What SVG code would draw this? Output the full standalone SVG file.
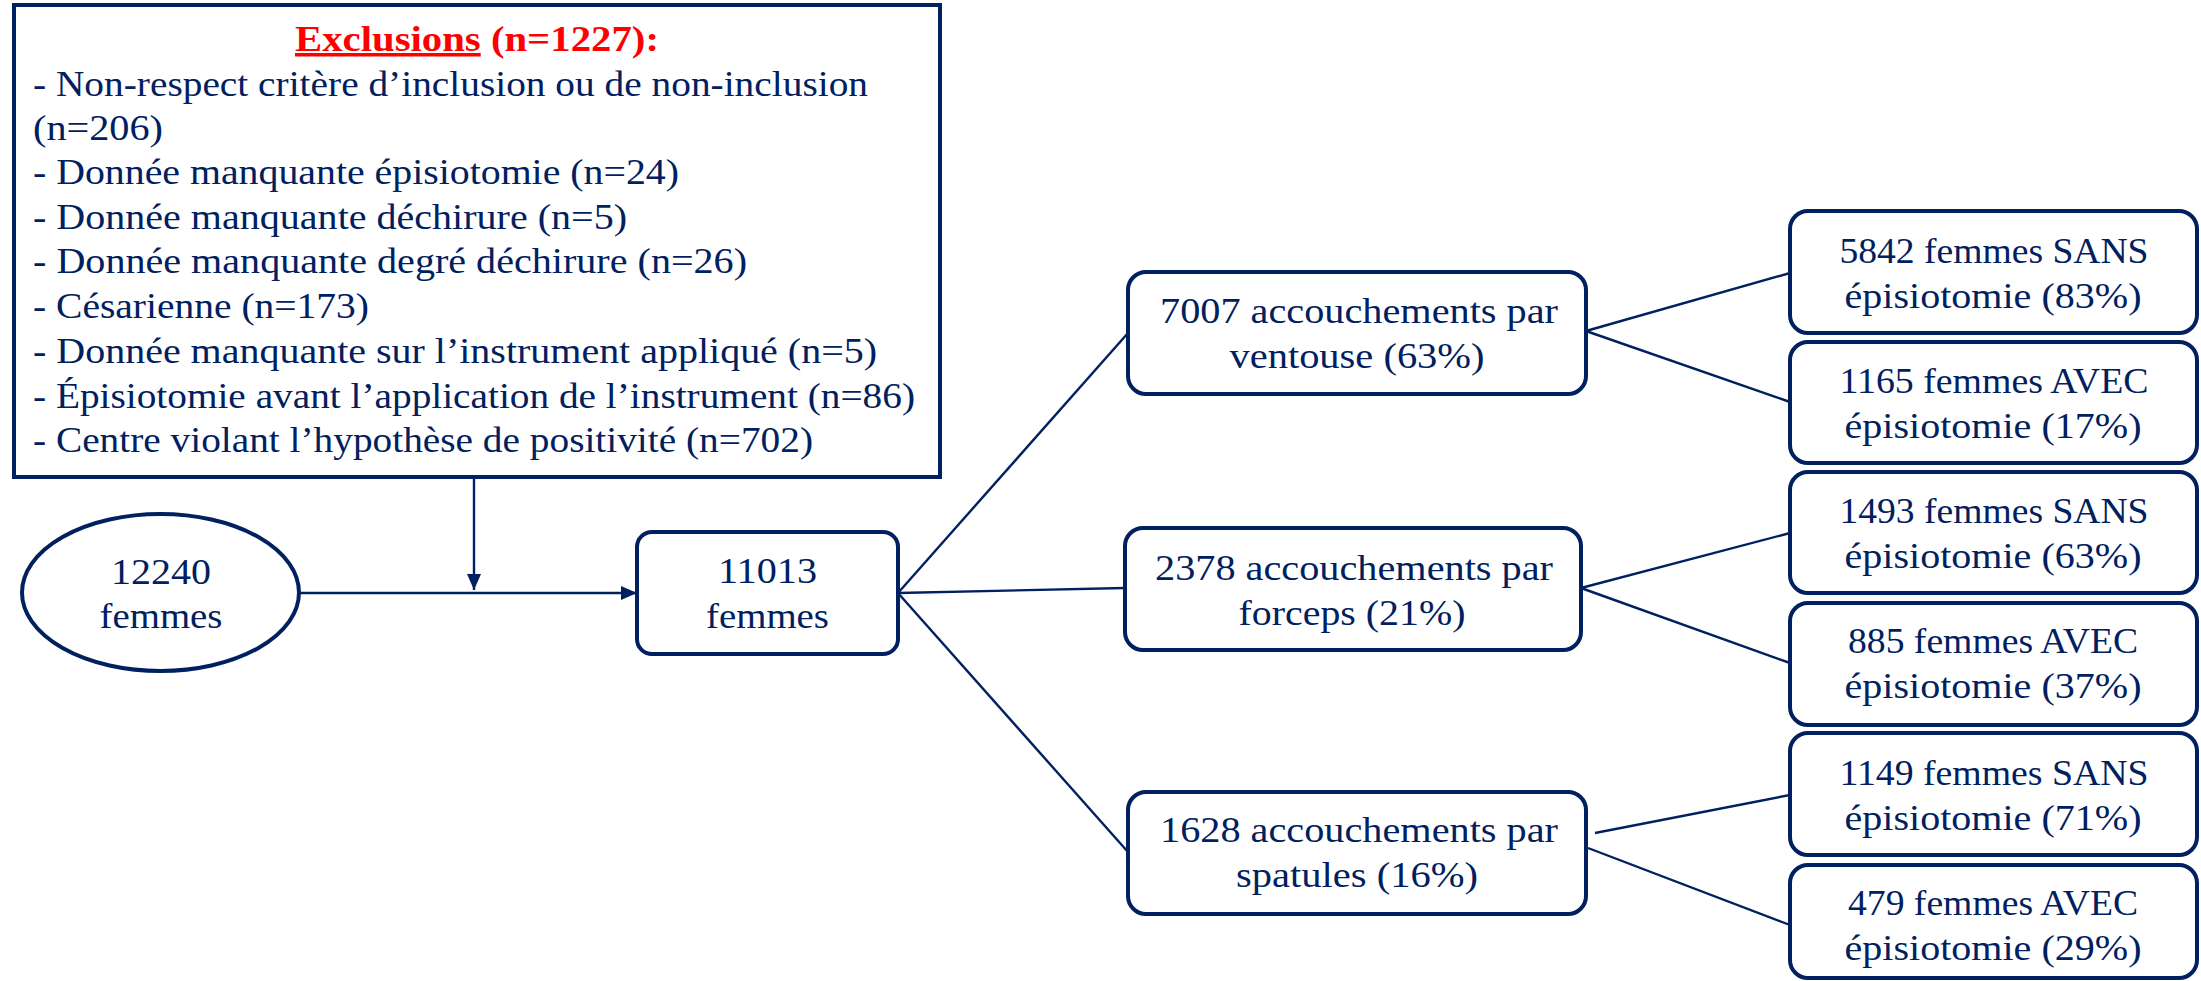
<svg xmlns="http://www.w3.org/2000/svg" width="2201" height="981" viewBox="0 0 2201 981">
<style>
  .t { font-family: "Liberation Serif", "Times New Roman", serif; fill: #002060; font-size: 36px; }
  .c { text-anchor: middle; }
  .ex { font-family: "Liberation Serif", "Times New Roman", serif; fill: #002060; font-size: 35px; }
  .box { fill: #ffffff; stroke: #002060; stroke-width: 4; }
  .ln { stroke: #002060; stroke-width: 2.4; fill: none; }
</style>
<defs>
  <marker id="arr2" viewBox="0 0 16 14" refX="16" refY="7" markerWidth="16" markerHeight="14" orient="auto" markerUnits="userSpaceOnUse">
    <path d="M0,0 L16,7 L0,14 z" fill="#002060"/>
  </marker>
</defs>
<rect width="2201" height="981" fill="#ffffff"/>

<g id="connectors">
  <line class="ln" x1="474" y1="477" x2="474" y2="590" marker-end="url(#arr2)"/>
  <line class="ln" x1="299" y1="593" x2="637" y2="593" marker-end="url(#arr2)"/>
  <line class="ln" x1="898" y1="593" x2="1128" y2="333"/>
  <line class="ln" x1="898" y1="593" x2="1125" y2="588"/>
  <line class="ln" x1="898" y1="593" x2="1128" y2="852"/>
  <line class="ln" x1="1586" y1="331" x2="1790" y2="273"/>
  <line class="ln" x1="1586" y1="331" x2="1790" y2="402"/>
  <line class="ln" x1="1581" y1="588" x2="1790" y2="533"/>
  <line class="ln" x1="1581" y1="588" x2="1790" y2="663"/>
  <line class="ln" x1="1595" y1="833" x2="1790" y2="795"/>
  <line class="ln" x1="1588" y1="848" x2="1790" y2="925"/>
</g>

<g id="exclusions">
  <rect x="14" y="5" width="926" height="472" fill="#ffffff" stroke="#002060" stroke-width="4"/>
  <text x="477" y="51" class="c" textLength="364" lengthAdjust="spacingAndGlyphs" style="font-family:'Liberation Serif',serif;font-size:35px;font-weight:bold;fill:#ff0000"><tspan text-decoration="underline">Exclusions</tspan> (n=1227):</text>
  <text class="ex" x="33" y="96" textLength="835" lengthAdjust="spacingAndGlyphs">- Non-respect critère d’inclusion ou de non-inclusion</text>
  <text class="ex" x="33" y="140" textLength="130" lengthAdjust="spacingAndGlyphs">(n=206)</text>
  <text class="ex" x="33" y="184" textLength="646" lengthAdjust="spacingAndGlyphs">- Donnée manquante épisiotomie (n=24)</text>
  <text class="ex" x="33" y="229" textLength="594" lengthAdjust="spacingAndGlyphs">- Donnée manquante déchirure (n=5)</text>
  <text class="ex" x="33" y="273" textLength="714" lengthAdjust="spacingAndGlyphs">- Donnée manquante degré déchirure (n=26)</text>
  <text class="ex" x="33" y="318" textLength="336" lengthAdjust="spacingAndGlyphs">- Césarienne (n=173)</text>
  <text class="ex" x="33" y="363" textLength="844" lengthAdjust="spacingAndGlyphs">- Donnée manquante sur l’instrument appliqué (n=5)</text>
  <text class="ex" x="33" y="408" textLength="882" lengthAdjust="spacingAndGlyphs">- Épisiotomie avant l’application de l’instrument (n=86)</text>
  <text class="ex" x="33" y="452" textLength="780" lengthAdjust="spacingAndGlyphs">- Centre violant l’hypothèse de positivité (n=702)</text>
</g>

<g id="n12240">
  <ellipse cx="160.5" cy="592.5" rx="138.5" ry="78.5" class="box"/>
  <text class="t c" x="161" y="584" textLength="100" lengthAdjust="spacingAndGlyphs">12240</text>
  <text class="t c" x="161" y="628" textLength="123" lengthAdjust="spacingAndGlyphs">femmes</text>
</g>

<g id="n11013">
  <rect x="637" y="532" width="261" height="122" rx="15" class="box"/>
  <text class="t c" x="767.5" y="583" textLength="99" lengthAdjust="spacingAndGlyphs">11013</text>
  <text class="t c" x="767.5" y="628" textLength="123" lengthAdjust="spacingAndGlyphs">femmes</text>
</g>

<g id="ventouse">
  <rect x="1128" y="272" width="458" height="122" rx="18" class="box"/>
  <text class="t c" x="1359" y="323" textLength="398" lengthAdjust="spacingAndGlyphs">7007 accouchements par</text>
  <text class="t c" x="1357" y="368" textLength="255" lengthAdjust="spacingAndGlyphs">ventouse (63%)</text>
</g>

<g id="forceps">
  <rect x="1125" y="528" width="456" height="122" rx="18" class="box"/>
  <text class="t c" x="1354" y="580" textLength="398" lengthAdjust="spacingAndGlyphs">2378 accouchements par</text>
  <text class="t c" x="1352" y="625" textLength="227" lengthAdjust="spacingAndGlyphs">forceps (21%)</text>
</g>

<g id="spatules">
  <rect x="1128" y="792" width="458" height="122" rx="18" class="box"/>
  <text class="t c" x="1359" y="842" textLength="398" lengthAdjust="spacingAndGlyphs">1628 accouchements par</text>
  <text class="t c" x="1357" y="887" textLength="242" lengthAdjust="spacingAndGlyphs">spatules (16%)</text>
</g>

<g id="v_sans">
  <rect x="1790" y="211" width="407" height="122" rx="18" class="box"/>
  <text class="t c" x="1994" y="263" textLength="309" lengthAdjust="spacingAndGlyphs">5842 femmes SANS</text>
  <text class="t c" x="1993" y="308" textLength="297" lengthAdjust="spacingAndGlyphs">épisiotomie (83%)</text>
</g>
<g id="v_avec">
  <rect x="1790" y="342" width="407" height="121" rx="18" class="box"/>
  <text class="t c" x="1994" y="393" textLength="309" lengthAdjust="spacingAndGlyphs">1165 femmes AVEC</text>
  <text class="t c" x="1993" y="438" textLength="297" lengthAdjust="spacingAndGlyphs">épisiotomie (17%)</text>
</g>
<g id="f_sans">
  <rect x="1790" y="472" width="407" height="121" rx="18" class="box"/>
  <text class="t c" x="1994" y="523" textLength="309" lengthAdjust="spacingAndGlyphs">1493 femmes SANS</text>
  <text class="t c" x="1993" y="568" textLength="297" lengthAdjust="spacingAndGlyphs">épisiotomie (63%)</text>
</g>
<g id="f_avec">
  <rect x="1790" y="603" width="407" height="122" rx="18" class="box"/>
  <text class="t c" x="1993" y="653" textLength="290" lengthAdjust="spacingAndGlyphs">885 femmes AVEC</text>
  <text class="t c" x="1993" y="698" textLength="297" lengthAdjust="spacingAndGlyphs">épisiotomie (37%)</text>
</g>
<g id="s_sans">
  <rect x="1790" y="733" width="407" height="122" rx="18" class="box"/>
  <text class="t c" x="1994" y="785" textLength="309" lengthAdjust="spacingAndGlyphs">1149 femmes SANS</text>
  <text class="t c" x="1993" y="830" textLength="297" lengthAdjust="spacingAndGlyphs">épisiotomie (71%)</text>
</g>
<g id="s_avec">
  <rect x="1790" y="865" width="407" height="113" rx="18" class="box"/>
  <text class="t c" x="1993" y="915" textLength="290" lengthAdjust="spacingAndGlyphs">479 femmes AVEC</text>
  <text class="t c" x="1993" y="960" textLength="297" lengthAdjust="spacingAndGlyphs">épisiotomie (29%)</text>
</g>
</svg>
